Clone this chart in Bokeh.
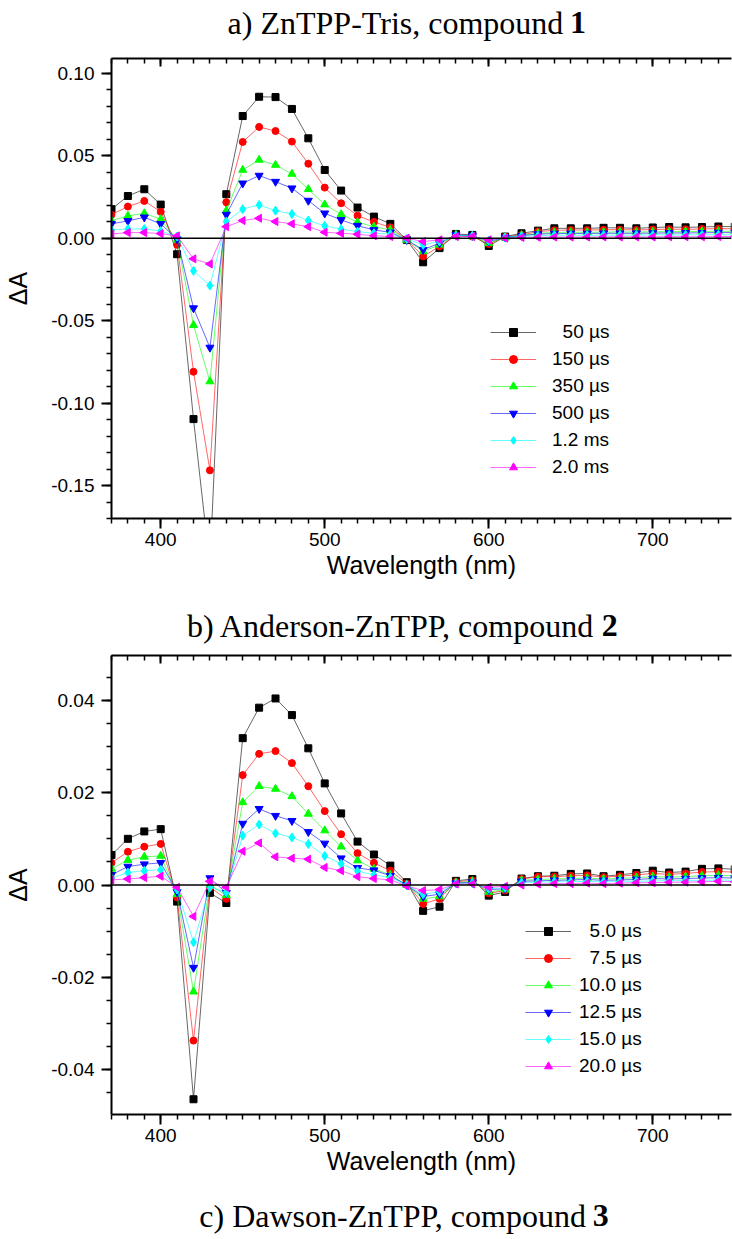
import numpy as np
from bokeh.plotting import figure
from bokeh.layouts import column
from bokeh.models import (Range1d, LinearAxis, SingleIntervalTicker, NumeralTickFormatter,
                          CustomJSTickFormatter, Span, Legend, LegendItem)
from bokeh.core.properties import value
from bokeh.embed import file_html
from bokeh.resources import INLINE

# Wavelength grid (nm)
wavelength = list(range(370, 760, 10))

# Panel a) ZnTPP-Tris, compound 1 -- transient absorption at several delays
a_labels = ["\u200750 µs", "150 µs", "350 µs", "500 µs", "1.2 ms", "2.0 ms"]
a_50us = [0.0176, 0.0256, 0.0297, 0.0204, -0.0097, -0.1097, -0.199, 0.0267,
          0.0741, 0.0858, 0.0856, 0.0784, 0.0606, 0.0414, 0.0289, 0.0186, 0.0131, 0.0087,
          -0.0010, -0.0146, -0.0060, 0.0026, 0.0020, -0.0047, 0.0010, 0.0030, 0.0046, 0.0060,
          0.0060, 0.0060, 0.0063, 0.0063, 0.0060, 0.0065, 0.0068, 0.0066, 0.0068, 0.0071, 0.0070]
a_150us = [0.0143, 0.0192, 0.0226, 0.0160, -0.0040, -0.0810, -0.1408, 0.0218,
           0.0584, 0.0675, 0.0650, 0.0586, 0.0452, 0.0307, 0.0212, 0.0137, 0.0099, 0.0066,
           -0.0010, -0.0110, -0.0050, 0.0016, 0.0010, -0.0035, 0.0010, 0.0020, 0.0040, 0.0048,
           0.0050, 0.0050, 0.0051, 0.0052, 0.0050, 0.0053, 0.0055, 0.0054, 0.0056, 0.0058, 0.0057]
a_350us = [0.0107, 0.0135, 0.0151, 0.0115, -0.0010, -0.0527, -0.0869, 0.0167,
           0.0414, 0.0475, 0.0444, 0.0390, 0.0297, 0.0204, 0.0145, 0.0097, 0.0070, 0.0050,
           -0.0010, -0.0080, -0.0040, 0.0020, 0.0010, -0.0030, 0.0005, 0.0018, 0.0030, 0.0035,
           0.0036, 0.0036, 0.0037, 0.0038, 0.0037, 0.0039, 0.0040, 0.0040, 0.0041, 0.0042, 0.0042]
a_500us = [0.0087, 0.0105, 0.0127, 0.0087, -0.0005, -0.0424, -0.0663, 0.0143,
           0.0333, 0.0380, 0.0343, 0.0303, 0.0228, 0.0151, 0.0111, 0.0076, 0.0050, 0.0036,
           -0.0010, -0.0070, -0.0030, 0.0020, 0.0015, -0.0020, 0.0005, 0.0015, 0.0025, 0.0028,
           0.0029, 0.0029, 0.0030, 0.0030, 0.0030, 0.0031, 0.0032, 0.0032, 0.0033, 0.0034, 0.0034]
a_1_2ms = [0.0050, 0.0056, 0.0056, 0.0044, 0.0010, -0.0198, -0.0287, 0.0101,
           0.0176, 0.0202, 0.0167, 0.0147, 0.0107, 0.0075, 0.0055, 0.0040, 0.0030, 0.0025,
           -0.0005, -0.0040, -0.0020, 0.0015, 0.0015, -0.0015, 0.0005, 0.0012, 0.0015, 0.0018,
           0.0018, 0.0018, 0.0019, 0.0019, 0.0019, 0.0020, 0.0020, 0.0020, 0.0021, 0.0021, 0.0021]
a_2_0ms = [0.0026, 0.0034, 0.0034, 0.0028, 0.0014, -0.0125, -0.0156, 0.0070,
           0.0107, 0.0121, 0.0101, 0.0087, 0.0070, 0.0036, 0.0030, 0.0024, 0.0015, 0.0010,
           0.0000, -0.0020, -0.0010, 0.0010, 0.0010, -0.0010, 0.0000, 0.0005, 0.0006, 0.0007,
           0.0007, 0.0007, 0.0008, 0.0008, 0.0008, 0.0008, 0.0009, 0.0009, 0.0009, 0.0010, 0.0010]

# Panel b) Anderson-ZnTPP, compound 2
b_labels = ["\u20075.0 µs", "\u20077.5 µs", "10.0 µs", "12.5 µs", "15.0 µs", "20.0 µs"]
b_5_0us = [0.0065, 0.0100, 0.0116, 0.0121, -0.0036, -0.0464, -0.0017, -0.0039,
           0.0318, 0.0384, 0.0404, 0.0368, 0.0296, 0.0220, 0.0155, 0.0094, 0.0066, 0.0042,
           0.0006, -0.0056, -0.0047, 0.0009, 0.0013, -0.0023, -0.0015, 0.0014, 0.0019, 0.0020,
           0.0024, 0.0025, 0.0019, 0.0022, 0.0026, 0.0031, 0.0027, 0.0029, 0.0035, 0.0036, 0.0034]
b_7_5us = [0.0048, 0.0072, 0.0083, 0.0089, -0.0027, -0.0337, -0.0005, -0.0030,
           0.0238, 0.0284, 0.0290, 0.0264, 0.0214, 0.0160, 0.0110, 0.0069, 0.0048, 0.0031,
           0.0003, -0.0041, -0.0030, 0.0007, 0.0010, -0.0018, -0.0012, 0.0013, 0.0018, 0.0018,
           0.0020, 0.0021, 0.0017, 0.0019, 0.0022, 0.0025, 0.0023, 0.0025, 0.0028, 0.0029, 0.0028]
b_10_0us = [0.0035, 0.0054, 0.0061, 0.0063, -0.0020, -0.0231, 0.0000, -0.0022,
            0.0179, 0.0214, 0.0208, 0.0192, 0.0154, 0.0118, 0.0083, 0.0053, 0.0035, 0.0022,
            0.0000, -0.0030, -0.0025, 0.0005, 0.0008, -0.0015, -0.0010, 0.0010, 0.0012, 0.0013,
            0.0014, 0.0015, 0.0013, 0.0014, 0.0016, 0.0018, 0.0017, 0.0018, 0.0020, 0.0021, 0.0020]
b_12_5us = [0.0022, 0.0040, 0.0045, 0.0048, -0.0015, -0.0179, 0.0015, -0.0017,
            0.0133, 0.0165, 0.0150, 0.0139, 0.0115, 0.0090, 0.0058, 0.0037, 0.0032, 0.0020,
            0.0000, -0.0025, -0.0020, 0.0004, 0.0006, -0.0010, -0.0008, 0.0008, 0.0009, 0.0010,
            0.0011, 0.0012, 0.0010, 0.0011, 0.0012, 0.0014, 0.0013, 0.0014, 0.0015, 0.0016, 0.0015]
b_15_0us = [0.0015, 0.0027, 0.0031, 0.0033, -0.0010, -0.0124, -0.0005, -0.0016,
            0.0107, 0.0131, 0.0112, 0.0103, 0.0089, 0.0063, 0.0046, 0.0030, 0.0022, 0.0016,
            0.0000, -0.0020, -0.0015, 0.0003, 0.0004, -0.0008, -0.0006, 0.0005, 0.0006, 0.0007,
            0.0007, 0.0008, 0.0007, 0.0008, 0.0008, 0.0009, 0.0009, 0.0010, 0.0010, 0.0011, 0.0010]
b_20_0us = [0.0011, 0.0013, 0.0016, 0.0019, -0.0005, -0.0068, 0.0008, -0.0005,
            0.0073, 0.0091, 0.0061, 0.0058, 0.0056, 0.0038, 0.0031, 0.0018, 0.0014, 0.0011,
            -0.0002, -0.0012, -0.0010, 0.0002, 0.0002, -0.0005, -0.0003, 0.0000, 0.0002, 0.0003,
            0.0003, 0.0004, 0.0003, 0.0004, 0.0005, 0.0005, 0.0006, 0.0006, 0.0007, 0.0008, 0.0007]

# Shared marker/colour scheme for the six delays
COLORS = ["#000000", "#ff0000", "#00ff00", "#0000ff", "#00ffff", "#ff00ff"]
MARKERS = ["square", "circle", "triangle", "inverted_triangle", "diamond", "triangle"]
SIZES = [7, 7, 8, 8, 9, 8]
ANGLES = [0, 0, 0, 0, 0, np.pi / 2]   # last one: left-pointing triangle

SANS = "Liberation Sans"
SERIF = "Liberation Serif"
W = 732

# Times/Liberation Serif advance widths (em/1000) for title layout
TIMES_W = {" ": 250, "a": 444, "b": 500, "c": 444, "d": 500, "e": 444, "i": 278, "m": 778,
           "n": 500, "o": 500, "p": 500, "r": 333, "s": 389, "u": 500, "w": 722, ")": 333,
           ",": 250, "-": 333, "A": 722, "D": 722, "P": 556, "T": 611, "Z": 611}


def text_width(s, size):
    return sum(TIMES_W.get(ch, 500) for ch in s) * size / 1000.0


def title_fig(height, mid, prefix, number, size=32, center=377):
    t = figure(width=W, height=height, x_range=Range1d(0, W), y_range=Range1d(0, height),
               toolbar_location=None, output_backend="svg", min_border=0,
               x_axis_type=None, y_axis_type=None)
    t.outline_line_color = None
    total = text_width(prefix + " ", size) + text_width(number, size)
    split = center - total / 2 + text_width(prefix + " ", size)
    y = height - mid
    t.text(x=[split - text_width(" ", size)], y=[y], text=[prefix],
           text_font=value(SERIF), text_font_size=f"{size}px", text_align="right",
           text_baseline="middle", text_color="black")
    t.text(x=[split], y=[y], text=[number],
           text_font=value(SERIF), text_font_size=f"{size}px", text_font_style="bold",
           text_align="left", text_baseline="middle", text_color="black")
    return t


def style_axis(ax, inward=False):
    ax.axis_line_width = 2
    ax.axis_line_color = "black"
    ax.major_tick_line_width = 2
    ax.minor_tick_line_width = 1.5
    ax.major_tick_line_color = "black"
    ax.minor_tick_line_color = "black"
    if inward:
        ax.major_tick_in, ax.major_tick_out = 8, 0
        ax.minor_tick_in, ax.minor_tick_out = 5, 0
    else:
        ax.major_tick_in, ax.major_tick_out = 0, 10
        ax.minor_tick_in, ax.minor_tick_out = 0, 5
    ax.major_label_text_font = SANS
    ax.major_label_text_font_size = "19px"
    ax.major_label_text_color = "black"
    ax.axis_label_text_font = SANS
    ax.axis_label_text_font_size = "25px"
    ax.axis_label_text_font_style = "normal"
    ax.axis_label_text_color = "black"


def panel(height, y_lo, y_hi, y_step, y_minor, top, bottom, series, labels,
          legend_xy, standoff):
    p = figure(width=W, height=height, x_range=Range1d(370, 748), y_range=Range1d(y_lo, y_hi),
               toolbar_location=None, output_backend="svg",
               min_border_left=111, min_border_right=1, min_border_top=top,
               min_border_bottom=bottom, x_axis_type=None, y_axis_type=None)
    p.outline_line_color = None

    xt = SingleIntervalTicker(interval=100, num_minor_ticks=10)
    xb = LinearAxis(ticker=xt, axis_label="Wavelength (nm)")
    style_axis(xb)
    xb.major_label_standoff = 4
    xb.axis_label_standoff = 2
    p.add_layout(xb, "below")

    # top frame edge: ticks pointing inward, no labels
    xa = LinearAxis(ticker=xt, formatter=CustomJSTickFormatter(code="return ''"))
    style_axis(xa, inward=True)
    xa.major_label_standoff = 0
    p.add_layout(xa, "above")

    yt = SingleIntervalTicker(interval=y_step, num_minor_ticks=y_minor)
    yl = LinearAxis(ticker=yt, axis_label="ΔA", formatter=NumeralTickFormatter(format="0.00"))
    style_axis(yl)
    yl.major_label_standoff = 7
    yl.axis_label_standoff = 16
    p.add_layout(yl, "left")

    p.add_layout(Span(location=0, dimension="width", line_color="black", line_width=1.5))

    items = []
    for vals, col, mk, sz, ang, lab in zip(series, COLORS, MARKERS, SIZES, ANGLES, labels):
        rl = p.line(wavelength, vals, line_color=col, line_width=1, line_alpha=0.6)
        rm = p.scatter(wavelength, vals, marker=mk, size=sz, angle=ang,
                       fill_color=col, line_color=col)
        items.append(LegendItem(label=lab, renderers=[rl, rm]))

    leg = Legend(items=items, location=legend_xy, border_line_color=None,
                 background_fill_alpha=0, padding=0, margin=0, spacing=5,
                 glyph_width=46, glyph_height=20, label_height=20, label_standoff=standoff,
                 label_text_font=SANS, label_text_font_size="19px", label_text_color="black")
    p.add_layout(leg)
    return p


ta = title_fig(45, 22, "a) ZnTPP-Tris, compound", "1")
pa = panel(555, -0.17, 0.109, 0.05, 5, 13, 82,
           [a_50us, a_150us, a_350us, a_500us, a_1_2ms, a_2_0ms], a_labels, (379, 40), 16)
tb = title_fig(45, 25, "b) Anderson-ZnTPP, compound", "2")
pb = panel(545, -0.0497, 0.0497, 0.02, 4, 10, 76,
           [b_5_0us, b_7_5us, b_10_0us, b_12_5us, b_15_0us, b_20_0us], b_labels, (414, 37), 8)
tc = title_fig(49, 25, "c) Dawson-ZnTPP, compound", "3")

layout = column(ta, pa, tb, pb, tc, spacing=0)
open("out.html", "w").write(file_html(layout, INLINE))
